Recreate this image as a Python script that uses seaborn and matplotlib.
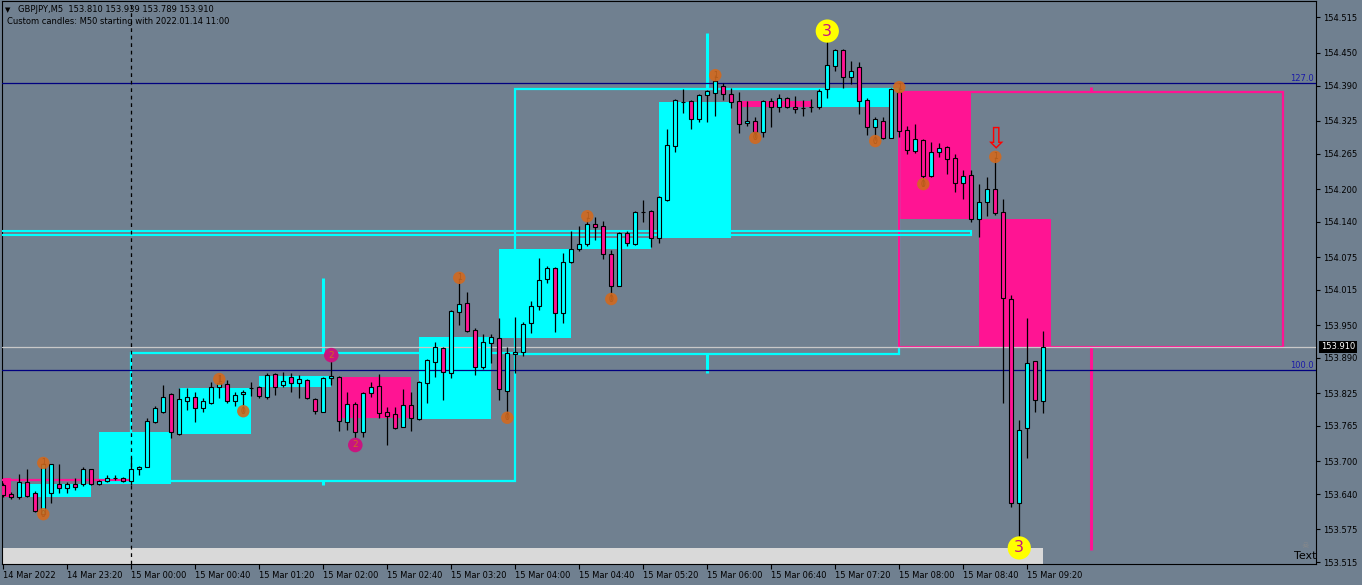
#!/usr/bin/env python3
"""GBPJPY M5 chart with custom M50 / H4 candles (MT4 style) redrawn with seaborn."""

import matplotlib
matplotlib.use("Agg")
import matplotlib.pyplot as plt
import matplotlib.transforms as mtransforms
from matplotlib.patches import Rectangle
import numpy as np
import pandas as pd
import seaborn as sns

# ---- data ----
# M5 bars from 14 Mar 2022 22:40 to 15 Mar 2022 09:30
opens = [153.657, 153.640, 153.634, 153.662, 153.642, 153.603, 153.642, 153.658, 153.651, 153.658,
         153.658, 153.686, 153.658, 153.664, 153.669, 153.669, 153.664, 153.686, 153.690, 153.772,
         153.791, 153.824, 153.750, 153.811, 153.818, 153.798, 153.807, 153.836, 153.842, 153.811,
         153.824, 153.835, 153.836, 153.818, 153.860, 153.840, 153.855, 153.844, 153.849, 153.814,
         153.791, 153.853, 153.855, 153.772, 153.805, 153.754, 153.825, 153.838, 153.791, 153.787,
         153.763, 153.803, 153.778, 153.844, 153.882, 153.908, 153.862, 153.974, 153.991, 153.941,
         153.873, 153.917, 153.926, 153.829, 153.897, 153.901, 153.954, 153.985, 154.035, 154.055,
         153.972, 154.066, 154.090, 154.099, 154.136, 154.132, 154.081, 154.022, 154.119, 154.099,
         154.158, 154.160, 154.110, 154.180, 154.279, 154.360, 154.362, 154.329, 154.373, 154.376,
         154.389, 154.374, 154.362, 154.321, 154.325, 154.305, 154.362, 154.351, 154.367, 154.351,
         154.349, 154.351, 154.351, 154.384, 154.426, 154.455, 154.406, 154.424, 154.363, 154.314,
         154.325, 154.294, 154.378, 154.308, 154.270, 154.290, 154.224, 154.268, 154.277, 154.257,
         154.211, 154.226, 154.145, 154.176, 154.200, 154.158, 153.998, 153.624, 153.761, 153.884,
         153.810]
highs = [153.660, 153.644, 153.677, 153.686, 153.646, 153.697, 153.695, 153.695, 153.662, 153.669,
         153.690, 153.686, 153.666, 153.675, 153.675, 153.671, 153.708, 153.691, 153.779, 153.802,
         153.840, 153.825, 153.835, 153.835, 153.827, 153.816, 153.846, 153.858, 153.849, 153.827,
         153.831, 153.846, 153.838, 153.862, 153.862, 153.864, 153.862, 153.858, 153.851, 153.816,
         153.855, 153.895, 153.857, 153.827, 153.809, 153.827, 153.846, 153.860, 153.800, 153.800,
         153.833, 153.827, 153.847, 153.888, 153.919, 153.910, 153.978, 154.037, 154.011, 153.945,
         153.934, 153.934, 153.963, 153.910, 153.965, 153.956, 153.994, 154.073, 154.059, 154.057,
         154.083, 154.123, 154.132, 154.149, 154.149, 154.141, 154.088, 154.121, 154.123, 154.160,
         154.180, 154.161, 154.187, 154.310, 154.365, 154.384, 154.363, 154.374, 154.382, 154.409,
         154.395, 154.385, 154.378, 154.362, 154.332, 154.363, 154.367, 154.374, 154.369, 154.371,
         154.363, 154.365, 154.384, 154.486, 154.457, 154.457, 154.435, 154.433, 154.367, 154.332,
         154.332, 154.385, 154.387, 154.316, 154.319, 154.292, 154.286, 154.284, 154.279, 154.264,
         154.235, 154.235, 154.209, 154.222, 154.259, 154.182, 154.005, 153.776, 153.963, 153.884,
         153.939]
lows = [153.634, 153.631, 153.631, 153.634, 153.607, 153.601, 153.624, 153.642, 153.642, 153.647,
        153.655, 153.657, 153.657, 153.662, 153.666, 153.662, 153.657, 153.675, 153.690, 153.770,
        153.789, 153.743, 153.748, 153.794, 153.772, 153.791, 153.805, 153.816, 153.807, 153.802,
        153.791, 153.820, 153.816, 153.814, 153.822, 153.836, 153.827, 153.816, 153.814, 153.787,
        153.791, 153.840, 153.756, 153.757, 153.730, 153.745, 153.818, 153.779, 153.730, 153.759,
        153.763, 153.756, 153.776, 153.807, 153.855, 153.813, 153.853, 153.950, 153.937, 153.858,
        153.869, 153.881, 153.813, 153.779, 153.862, 153.893, 153.936, 153.978, 154.027, 153.937,
        153.954, 154.064, 154.086, 154.095, 154.106, 154.071, 153.996, 154.022, 154.095, 154.097,
        154.139, 154.094, 154.101, 154.178, 154.268, 154.340, 154.310, 154.323, 154.323, 154.334,
        154.363, 154.349, 154.303, 154.316, 154.294, 154.295, 154.314, 154.341, 154.349, 154.340,
        154.334, 154.341, 154.347, 154.367, 154.417, 154.385, 154.393, 154.338, 154.299, 154.290,
        154.292, 154.294, 154.295, 154.264, 154.266, 154.206, 154.222, 154.259, 154.228, 154.194,
        154.182, 154.139, 154.112, 154.150, 154.152, 153.807, 153.616, 153.537, 153.706, 153.791,
        153.789]
closes = [153.638, 153.634, 153.662, 153.636, 153.609, 153.695, 153.695, 153.651, 153.658, 153.653,
          153.686, 153.658, 153.664, 153.669, 153.669, 153.664, 153.686, 153.690, 153.774, 153.798,
          153.818, 153.754, 153.814, 153.818, 153.798, 153.811, 153.836, 153.844, 153.811, 153.822,
          153.827, 153.835, 153.820, 153.858, 153.836, 153.847, 153.844, 153.851, 153.816, 153.792,
          153.853, 153.857, 153.774, 153.805, 153.754, 153.825, 153.836, 153.789, 153.783, 153.761,
          153.803, 153.779, 153.846, 153.886, 153.910, 153.864, 153.976, 153.989, 153.939, 153.873,
          153.919, 153.928, 153.833, 153.899, 153.901, 153.952, 153.985, 154.033, 154.055, 153.972,
          154.066, 154.090, 154.099, 154.136, 154.130, 154.081, 154.022, 154.119, 154.101, 154.158,
          154.158, 154.110, 154.185, 154.281, 154.363, 154.360, 154.329, 154.373, 154.380, 154.398,
          154.374, 154.360, 154.319, 154.325, 154.305, 154.362, 154.351, 154.367, 154.351, 154.347,
          154.349, 154.351, 154.380, 154.428, 154.455, 154.406, 154.417, 154.362, 154.314, 154.329,
          154.294, 154.384, 154.306, 154.272, 154.292, 154.224, 154.268, 154.275, 154.255, 154.211,
          154.224, 154.145, 154.176, 154.200, 154.156, 154.000, 153.624, 153.757, 153.881, 153.813,
          153.910]

time_labels = ["14 Mar 2022", "14 Mar 23:20", "15 Mar 00:00", "15 Mar 00:40", "15 Mar 01:20",
               "15 Mar 02:00", "15 Mar 02:40", "15 Mar 03:20", "15 Mar 04:00", "15 Mar 04:40",
               "15 Mar 05:20", "15 Mar 06:00", "15 Mar 06:40", "15 Mar 07:20", "15 Mar 08:00",
               "15 Mar 08:40", "15 Mar 09:20"]
price_ticks = [154.515, 154.450, 154.390, 154.325, 154.265, 154.200, 154.140, 154.075, 154.015,
               153.950, 153.890, 153.825, 153.765, 153.700, 153.640, 153.575, 153.515]

# custom candles: M50 every 10 bars, H4 every 48 bars
m50_first, m50_len = 2, 10
m50_prev_open = 153.669
h4_first, h4_len = 16, 48
h4_prev_close = 153.666

# fixed levels / objects on the chart
fib_levels = [154.395, 153.867]
fib_names = ["127.0", "100.0"]
bid = 153.910
d1_box = (154.115, 154.123, 121)      # low, high, last bar
bottom_band = (153.541, 130)          # top price, last bar

# zigzag style markers: bar, price, label
zz_bars = [5, 5, 27, 30, 57, 63, 73, 76, 89, 94, 109, 112, 115, 124]
zz_prices = [153.697, 153.603, 153.851, 153.792, 154.037, 153.780, 154.150, 153.998,
             154.409, 154.294, 154.288, 154.387, 154.209, 154.259]
zz_labels = ["1", "0", "1", "0", "1", "0", "1", "0", "1", "0", "0", "1", "0", "1"]
pink_bars = [41, 44]
pink_prices = [153.895, 153.730]
yellow_bars = [103, 127]
yellow_prices = [154.490, 153.541]
arrow_bar, arrow_price = 124, 154.292

# ---- style ----
sns.set_style("ticks")
plt.rcParams['font.family'] = ['DejaVu Sans']
bg = '#708090'
bull_col = '#00ffff'
bear_col = '#ff1493'
fs = 6

bars = pd.DataFrame({"open": opens, "high": highs, "low": lows, "close": closes})
bars["idx"] = np.arange(len(bars))
n = len(bars)

W, H = 1362, 585
fig = plt.figure(figsize=(W / 100, H / 100), dpi=100)
fig.patch.set_facecolor(bg)
ax = fig.add_axes([2 / W, (H - 564) / H, 1314 / W, 563 / H])
ax.set_facecolor(bg)
ax.set_xlim(-0.1625, 164.09)
ax.set_ylim(153.5115, 154.5452)

# bottom light band
ax.fill_between([-1, bottom_band[1]], 153.40, bottom_band[0], color='#d9d9d9', lw=0, zorder=1)

# M50 custom candle bodies
groups = [(m50_first - m50_len, m50_prev_open, bars.close.iloc[m50_first - 1])]
for s in range(m50_first, n, m50_len):
    g = bars.iloc[s:s + m50_len]
    groups.append((s, g.open.iloc[0], g.close.iloc[-1]))
for s, o, c in groups:
    col = bull_col if c >= o else bear_col
    ax.add_patch(Rectangle((s, min(o, c)), m50_len - 1, abs(c - o), facecolor=col,
                           edgecolor='none', zorder=2))

# H4 custom candles: outline + wick outside the body
ax.plot([h4_first - h4_len, h4_first], [h4_prev_close] * 2, color=bear_col, lw=1.6, zorder=3)
for s in range(h4_first, n, h4_len):
    g = bars.iloc[s:s + h4_len]
    o, c, hi, lo = g.open.iloc[0], g.close.iloc[-1], g.high.max(), g.low.min()
    col = bull_col if c >= o else bear_col
    ax.add_patch(Rectangle((s, min(o, c)), h4_len, abs(c - o), facecolor='none',
                           edgecolor=col, lw=1.6, zorder=3))
    mid = s + h4_len / 2
    ax.vlines(mid, max(o, c), hi, color=col, lw=2.2, zorder=3)
    ax.vlines(mid, lo, min(o, c), color=col, lw=2.2, zorder=3)

# thin cyan box
ax.add_patch(Rectangle((-5, d1_box[0]), d1_box[2] + 5, d1_box[1] - d1_box[0], facecolor='none',
                       edgecolor=bull_col, lw=1.5, zorder=3))

# fib lines, bid line
for lvl, name in zip(fib_levels, fib_names):
    ax.axhline(lvl, color='#000080', lw=0.9, zorder=4)
    ax.text(0.9985, lvl, name, transform=mtransforms.blended_transform_factory(ax.transAxes, ax.transData),
            ha='right', va='bottom', fontsize=fs, color='#1a1aa8', zorder=6)
ax.axhline(bid, color='#c8c8c8', lw=0.9, zorder=4)

# period separator
ax.axvline(h4_first, color='black', lw=0.9, ls=(0, (3, 3)), zorder=4)

# M5 candles
ax.vlines(bars.idx, bars.low, bars.high, color='black', lw=0.9, zorder=5)
colors = np.where(bars.close >= bars.open, bull_col, bear_col)
ax.bar(bars.idx, (bars.close - bars.open).abs(), bottom=bars[["open", "close"]].min(axis=1),
       width=0.55, color=colors, edgecolor='black', linewidth=0.8, zorder=6)

# markers
sns.scatterplot(x=zz_bars, y=zz_prices, s=80, color='#d2691e', edgecolor='none', alpha=0.9,
                ax=ax, zorder=7, legend=False)
for b, p, t in zip(zz_bars, zz_prices, zz_labels):
    ax.text(b, p, t, ha='center', va='center', fontsize=5.5, color='#b05a1a', zorder=8)
sns.scatterplot(x=pink_bars, y=pink_prices, s=110, color='#c8157f', edgecolor='none',
                ax=ax, zorder=7, legend=False)
for b, p in zip(pink_bars, pink_prices):
    ax.text(b, p, "2", ha='center', va='center', fontsize=6.5, color='#d2691e', zorder=8)
sns.scatterplot(x=yellow_bars, y=yellow_prices, s=280, color='#ffff00', edgecolor='none',
                ax=ax, zorder=7, legend=False)
for b, p in zip(yellow_bars, yellow_prices):
    ax.text(b, p, "3", ha='center', va='center', fontsize=11.5, color='#c8157f', zorder=8)
ax.text(arrow_bar, arrow_price, "⇩", ha='center', va='center', fontsize=21, color='red', zorder=8)

# axes, ticks
ax.set_xticks(np.arange(0, n, 8))
ax.set_xticklabels(time_labels, ha='left', fontsize=fs)
ax.yaxis.tick_right()
ax.set_yticks(price_ticks)
ax.set_yticklabels([f"{v:.3f}" for v in price_ticks], fontsize=fs)
ax.tick_params(axis='x', length=3.5, width=0.8, pad=1.5, colors='black')
ax.tick_params(axis='y', length=3, width=0.8, pad=2, colors='black')
for sp in ax.spines.values():
    sp.set_color('black')
    sp.set_linewidth(0.8)

ax.text(1.0, bid, "153.910", transform=mtransforms.blended_transform_factory(ax.transAxes, ax.transData)
        + mtransforms.ScaledTranslation(5 / 100, 0, fig.dpi_scale_trans),
        ha='left', va='center', fontsize=fs, color='white', zorder=10, clip_on=False,
        bbox=dict(facecolor='black', edgecolor='none', pad=1.2))

# header
fig.text(5 / W, 1 - 10 / H, "▼", fontsize=5, va='center', ha='left', color='black')
fig.text(18 / W, 1 - 10 / H, "GBPJPY,M5  153.810 153.939 153.789 153.910", fontsize=fs,
         va='center', ha='left', color='black')
fig.text(7 / W, 1 - 22 / H, "Custom candles: M50 starting with 2022.01.14 11:00", fontsize=fs,
         va='center', ha='left', color='black')
fig.text(1316 / W, 1 - 556 / H, "Text", fontsize=8, va='center', ha='right', color='black')
fig.text(1305 / W, 1 - 545 / H, "☠", fontsize=6, va='center', ha='center', color='#8a8a8a')

fig.savefig("out.png", dpi=100, facecolor=bg)
